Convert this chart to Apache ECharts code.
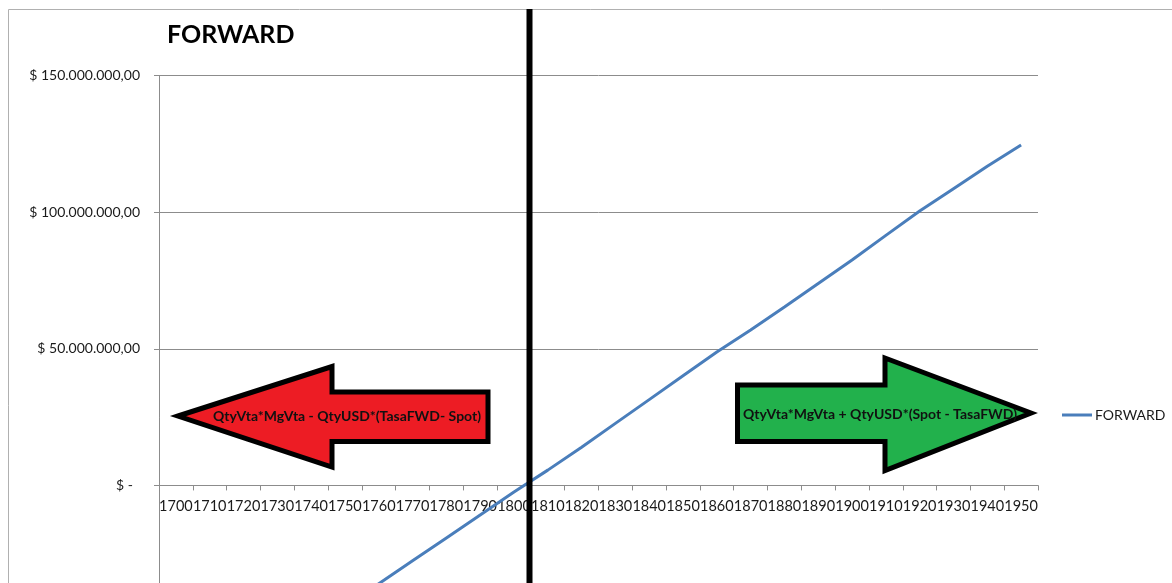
<!DOCTYPE html>
<html>
<head>
<meta charset="utf-8">
<script src="https://cdn.jsdelivr.net/npm/echarts@6/dist/echarts.min.js"></script>
<style>
  html, body { margin: 0; padding: 0; background: #fff; overflow: hidden; }
  #main { width: 1172px; height: 800px; }
</style>
</head>
<body>
<div id="main"></div>
<script>
// categories on the x axis
var years = ['1700', '1710', '1720', '1730', '1740', '1750', '1760', '1770', '1780', '1790',
  '1800', '1810', '1820', '1830', '1840', '1850', '1860', '1870', '1880', '1890',
  '1900', '1910', '1920', '1930', '1940', '1950'];

// FORWARD result, in millions of $
var forwardMillions = [-86.4, -78.0, -69.6, -61.2, -52.8, -44.4, -36.0, -27.6, -19.2, -10.8,
  -2.4, 5.6, 14.0, 22.7, 31.4, 40.1, 48.8, 56.9, 65.3, 73.9,
  82.5, 91.5, 100.4, 108.6, 116.8, 124.6];

var yMin = -100000000;
var yMax = 150000000;
var yStep = 50000000;

var redText = 'QtyVta*MgVta - QtyUSD*(TasaFWD- Spot)';
var greenText = 'QtyVta*MgVta + QtyUSD*(Spot - TasaFWD)';

function money(v) {
  if (v === 0) return '$ -\u00a0\u00a0';
  var abs = Math.abs(v);
  var s = String(Math.round(abs)).replace(/\B(?=(\d{3})+(?!\d))/g, '.');
  return (v < 0 ? '-' : '') + '$ ' + s + ',00';
}

var font = 'Lato, "Open Sans", sans-serif';

// plot box; the chart runs below the window, like the cropped original
var gridTop = 75.5;
var gridHeight = 683.2;
// lift the category axis up to the $0 line (labels included)
var zeroOffset = (0 - yMin) / (yMax - yMin) * gridHeight;

var chart = echarts.init(document.getElementById('main'));
chart.setOption({
  animation: false,
  title: {
    text: 'FORWARD',
    left: 167,
    top: 22,
    padding: 0,
    textStyle: { fontFamily: font, fontSize: 25, fontWeight: 'bold', color: '#000' }
  },
  legend: {
    data: ['FORWARD'],
    left: 1062,
    top: 408,
    padding: 0,
    icon: 'rect',
    itemWidth: 30,
    itemHeight: 3,
    itemGap: 3,
    textStyle: { fontFamily: font, fontSize: 14, color: '#1a1a1a', padding: [0, 0, 0, -2] }
  },
  grid: { left: 159, right: 134, top: gridTop, height: gridHeight },
  xAxis: {
    type: 'category',
    data: years,
    boundaryGap: true,
    offset: -zeroOffset,
    axisLine: { onZero: false, lineStyle: { color: '#8c8c8c', width: 1 } },
    axisTick: { show: true, length: 5, alignWithLabel: false, lineStyle: { color: '#8c8c8c' } },
    axisLabel: {
      show: true, interval: 0, hideOverlap: false, margin: 13,
      fontFamily: font, fontSize: 14.5, color: '#1a1a1a'
    },
    splitLine: { show: false }
  },
  yAxis: {
    type: 'value',
    min: yMin,
    max: yMax,
    interval: yStep,
    axisLine: { show: true, lineStyle: { color: '#8c8c8c', width: 1 } },
    axisTick: { show: true, length: 5, lineStyle: { color: '#8c8c8c' } },
    axisLabel: { margin: 19, fontFamily: font, fontSize: 14, color: '#1a1a1a', formatter: money },
    splitLine: { show: true, lineStyle: { color: '#8c8c8c', width: 1 } }
  },
  series: [{
    name: 'FORWARD',
    type: 'line',
    data: forwardMillions.map(function (v) { return v * 1000000; }),
    symbol: 'none',
    lineStyle: { color: '#4a7ebb', width: 3 },
    itemStyle: { color: '#4a7ebb' }
  }],
  graphic: [
    {
      type: 'rect',
      shape: { x: 8.5, y: 9.5, width: 1300, height: 1000 },
      style: { fill: 'none', stroke: '#b0b0b0', lineWidth: 1 },
      z: 0
    },
    {
      type: 'polygon',
      shape: { points: [[178, 416], [332, 366.5], [332, 392], [488, 392], [488, 441.5], [332, 441.5], [332, 467]] },
      style: { fill: '#ed1c24', stroke: '#000', lineWidth: 5, lineJoin: 'miter' },
      z: 10
    },
    {
      type: 'text',
      x: 347, y: 416,
      style: { text: redText, fill: '#111', font: 'bold 14px ' + font, textAlign: 'center', textVerticalAlign: 'middle' },
      z: 11
    },
    {
      type: 'polygon',
      shape: { points: [[737.5, 385], [885, 385], [885, 358], [1031, 413], [885, 470.5], [885, 441.5], [737.5, 441.5]] },
      style: { fill: '#22b14c', stroke: '#000', lineWidth: 5, lineJoin: 'miter' },
      z: 10
    },
    {
      type: 'text',
      x: 880, y: 414,
      style: { text: greenText, fill: '#111', font: 'bold 14px ' + font, textAlign: 'center', textVerticalAlign: 'middle' },
      z: 11
    },
    {
      type: 'line',
      shape: { x1: 529.5, y1: 9, x2: 529.5, y2: 800 },
      style: { stroke: '#000', lineWidth: 6 },
      z: 12
    }
  ]
});
</script>
</body>
</html>
